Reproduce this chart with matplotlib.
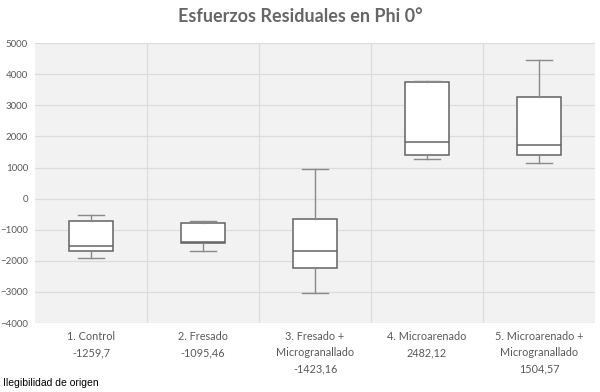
import matplotlib
matplotlib.use("Agg")
import matplotlib.pyplot as plt
import numpy as np

# values
categories = ["1. Control\n-1259,7", "2. Fresado\n-1095,46",
              "3. Fresado +\nMicrogranallado\n-1423,16",
              "4. Microarenado\n2482,12",
              "5. Microarenado +\nMicrogranallado\n1504,57"]
whisker_low = [-1897, -1672, -3022, 1264, 1135]
q1 = [-1694, -1415, -2219, 1405, 1405]
medians = [-1511, -1390, -1672, 1810, 1715]
q3 = [-730, -793, -665, 3740, 3270]
whisker_high = [-524, -707, 942, 3794, 4460]
yticks = list(range(-4000, 5001, 1000))

GREY = "#595959"

fig = plt.figure(figsize=(6, 3.92), dpi=100)
ax = fig.add_axes([0.0583, 0.176, 0.9334, 0.714])

stats = []
for i in range(len(categories)):
    stats.append({"whislo": whisker_low[i], "q1": q1[i], "med": medians[i],
                  "q3": q3[i], "whishi": whisker_high[i], "fliers": []})

pos = np.arange(1, len(categories) + 1)
ax.bxp(stats, positions=pos, widths=0.4, patch_artist=True, showfliers=False,
       boxprops=dict(facecolor="white", edgecolor="#626262", linewidth=1.1),
       medianprops=dict(color="#626262", linewidth=1.1),
       whiskerprops=dict(color="#8a8a8a", linewidth=1.0),
       capprops=dict(color="#8a8a8a", linewidth=1.0),
       capwidths=0.23, zorder=3)

ax.set_facecolor("#f2f2f2")
ax.set_xlim(0.5, len(categories) + 0.5)
ax.set_ylim(-4000, 5000)
ax.set_yticks(yticks)
ax.set_xticks(pos)
ax.set_xticklabels(categories, color=GREY, fontsize=7.8, family="Lato",
                   linespacing=1.55)
ax.set_xticks(np.arange(1.5, len(categories), 1.0), minor=True)
ax.tick_params(axis="y", labelsize=7, labelcolor=GREY, length=0, pad=5)
ax.tick_params(axis="x", which="both", length=0, pad=6)
for lab in ax.get_yticklabels():
    lab.set_family("Lato")

ax.grid(axis="y", which="major", color="#dcdcdc", linewidth=0.9, zorder=0)
ax.grid(axis="x", which="minor", color="#dcdcdc", linewidth=0.9, zorder=0)
ax.set_axisbelow(True)
for s in ax.spines.values():
    s.set_visible(False)

fig.text(0.5, 0.959, "Esfuerzos Residuales en Phi 0°", ha="center", va="center",
         fontsize=13, fontweight="bold", color="#666666", family="Lato")
fig.text(0.005, 0.022, "Ilegibilidad de origen", ha="left", va="center",
         fontsize=7.5, color="black", family="Liberation Sans")

fig.savefig("out.png", dpi=100)
